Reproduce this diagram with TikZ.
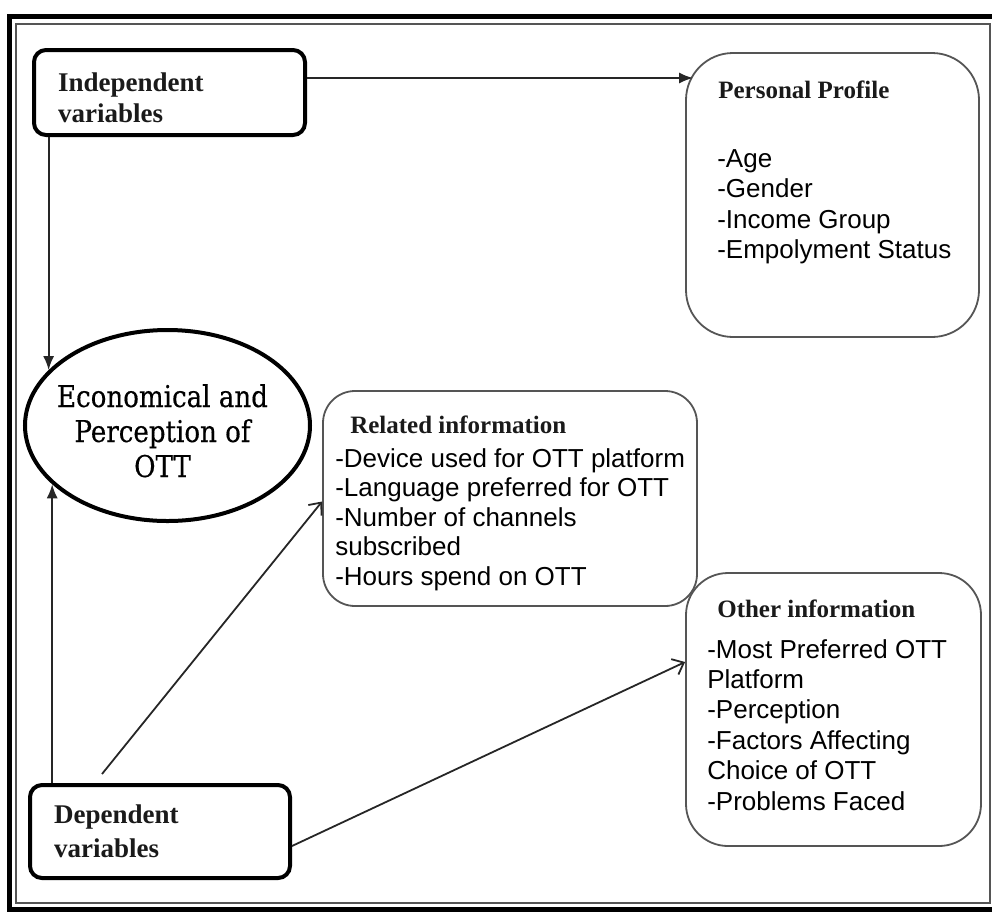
\documentclass[tikz,border=0pt]{standalone}
\usepackage{fontspec}
\setmainfont{Liberation Serif}
\newfontfamily\listfont{Liberation Sans}
\newfontfamily\slabfont[FakeStretch=0.87, FakeBold=0.4]{DejaVu Serif}
\usetikzlibrary{arrows.meta, shapes.geometric, positioning}
\definecolor{cline}{HTML}{555555}
\definecolor{ctext}{HTML}{1A1A1A}
\tikzset{
  varbox/.style={draw=black, line width=4pt, rounded corners=12pt, inner sep=0pt},
  infobox/.style={draw=cline, line width=1.8pt, rounded corners=#1, inner sep=0pt},
  infobox/.default=40pt,
  head/.style={font=\bfseries\fontsize{27}{32}\selectfont, text=ctext, inner sep=0pt},
  title/.style={font=\bfseries\fontsize{25}{30}\selectfont, text=ctext, inner sep=0pt},
  entry/.style={font=\listfont\fontsize{26}{30}\selectfont, inner sep=0pt},
  slab/.style={font=\slabfont\fontsize{30}{35}\selectfont, inner sep=0pt},
  arrow/.style={-{Latex[length=14pt,width=11pt]}, draw=black!85, line width=1.8pt},
  openarrow/.style={-{Straight Barb[length=10pt,width=17pt]}, draw=black!85, line width=1.8pt},
}

\begin{document}
\begin{tikzpicture}[x=1pt, y=-1pt]
  \useasboundingbox (0,0) rectangle (992,911);
  % double frame
  \draw[line width=5pt] (9.5,16.5) rectangle (1000,909.5);
  \draw[cline, line width=1.5pt] (16,24) rectangle (990,903);

  % boxes
  \node[varbox, minimum width=271pt, minimum height=85pt] (indep) at (169.5,92.5) {};
  \node[varbox, minimum width=260pt, minimum height=93pt] (dep) at (160,831.5) {};
  \node[draw, ellipse, line width=4pt, minimum width=285pt, minimum height=191pt, inner sep=0pt] (ott) at (167.5,425.5) {};
  \node[infobox=47pt, minimum width=293pt, minimum height=284pt] (pers) at (832.5,195) {};
  \node[infobox=32pt, minimum width=374pt, minimum height=215pt] (rel) at (510,498.5) {};
  \node[infobox=42pt, minimum width=295pt, minimum height=273pt] (oth) at (833.5,709.5) {};

  % labels
  \foreach \t/\dy [count=\k] in {Independent/43, variables/74}
    \node[head, anchor=base west] (indep-\k) at ([shift={(26pt,-\dy pt)}]indep.north west) {\t};
  \foreach \t/\dy [count=\k] in {Dependent/40, variables/74}
    \node[head, anchor=base west] (dep-\k) at ([shift={(26pt,-\dy pt)}]dep.north west) {\t};
  \foreach \t/\dy [count=\k] in {Economical and/18.5, Perception of/-16.5, OTT/-51.5}
    \node[slab, anchor=base] (ott-\k) at ([shift={(-5pt,\dy pt)}]ott.center) {\t};

  \node[title, anchor=base west] (pers-t) at ([shift={(33pt,-46pt)}]pers.north west) {Personal Profile};
  \foreach \t [count=\k] in {-Age, -Gender, -Income Group, -Empolyment Status}
    \node[entry, anchor=base west] (pers-\k) at ([shift={(32pt,-84.5pt-30.5pt*\k)}]pers.north west) {\t};

  \node[title, anchor=base west] (rel-t) at ([shift={(28pt,-43pt)}]rel.north west) {Related information};
  \foreach \t [count=\k] in {-Device used for OTT platform, -Language preferred for OTT, -Number of channels, subscribed, -Hours spend on OTT}
    \node[entry, anchor=base west] (rel-\k) at ([shift={(13pt,-47.4pt-29.6pt*\k)}]rel.north west) {\t};

  \node[title, anchor=base west] (oth-t) at ([shift={(32pt,-45pt)}]oth.north west) {Other information};
  \foreach \t [count=\k] in {-Most Preferred OTT, Platform, -Perception, -Factors Affecting, Choice of OTT, -Problems Faced}
    \node[entry, anchor=base west] (oth-\k) at ([shift={(22pt,-55.6pt-30.4pt*\k)}]oth.north west) {\t};

  % connectors
  \draw[arrow] ([yshift=14.5pt]indep.east) -- ([xshift=8pt,yshift=14.5pt]indep.east -| pers.west);
  \draw[arrow] (indep.south west -| ott.155) -- (ott.155);
  \draw[arrow] (dep.north west -| ott.207) -- (ott.207);
  \draw[openarrow] ([shift={(74pt,9pt)}]dep.north west) -- ([yshift=-3pt]rel.west);
  \draw[openarrow] ([yshift=-14.5pt]dep.east) -- ([yshift=47.5pt]oth.west);
\end{tikzpicture}
\end{document}
